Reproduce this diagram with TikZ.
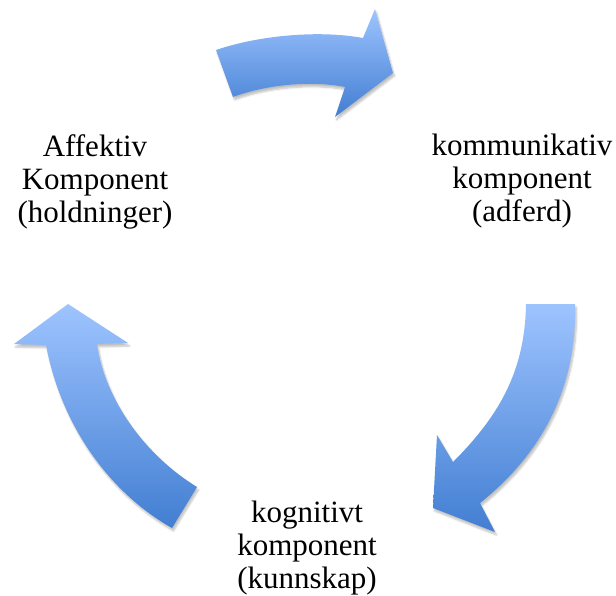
\documentclass[tikz,border=0pt]{standalone}
\usepackage{fontspec}
\setmainfont{Liberation Serif}
\usetikzlibrary{shadows.blur}
\definecolor{arrlight}{RGB}{158,196,255}
\definecolor{arrdark}{RGB}{66,126,210}
\tikzset{
  cyclearrow/.style={top color=arrlight, bottom color=arrdark, draw=none,
    blur shadow={shadow xshift=1.5pt, shadow yshift=-3pt, shadow blur steps=6, shadow opacity=25}},
  label/.style={align=center, anchor=north, inner sep=0pt, font=\fontsize{31}{33}\selectfont}
}
\begin{document}
\begin{tikzpicture}[x=1pt,y=-1pt]
\useasboundingbox (0,0) rectangle (616,596);
% top arrow
\path[cyclearrow] (216,50) .. controls (260,35) and (320,30) .. (363,38)
  -- (375,9) -- (393,73) -- (335,117) -- (345,87)
  .. controls (310,80) and (265,85) .. (233,97) -- cycle;
% right arrow
\path[cyclearrow] (526,304) -- (575,304)
  .. controls (577,390) and (540,455) .. (480,503)
  -- (495,532) -- (433,508) -- (437,435) -- (453,462)
  .. controls (500,415) and (525,370) .. (526,304) -- cycle;
% left arrow
\path[cyclearrow] (68,304) -- (128,343) -- (97,344)
  .. controls (105,400) and (145,455) .. (197,487)
  -- (172,528)
  .. controls (105,490) and (60,420) .. (46,345)
  -- (14,344) -- cycle;
\node[label] (aff) at (95,134) {Affektiv\\Komponent\\(holdninger)};
\node[label] (kom) at (522,134) {kommunikativ\\komponent\\(adferd)};
\node[label] (kog) at (307,501) {kognitivt\\komponent\\(kunnskap)};
\end{tikzpicture}
\end{document}
